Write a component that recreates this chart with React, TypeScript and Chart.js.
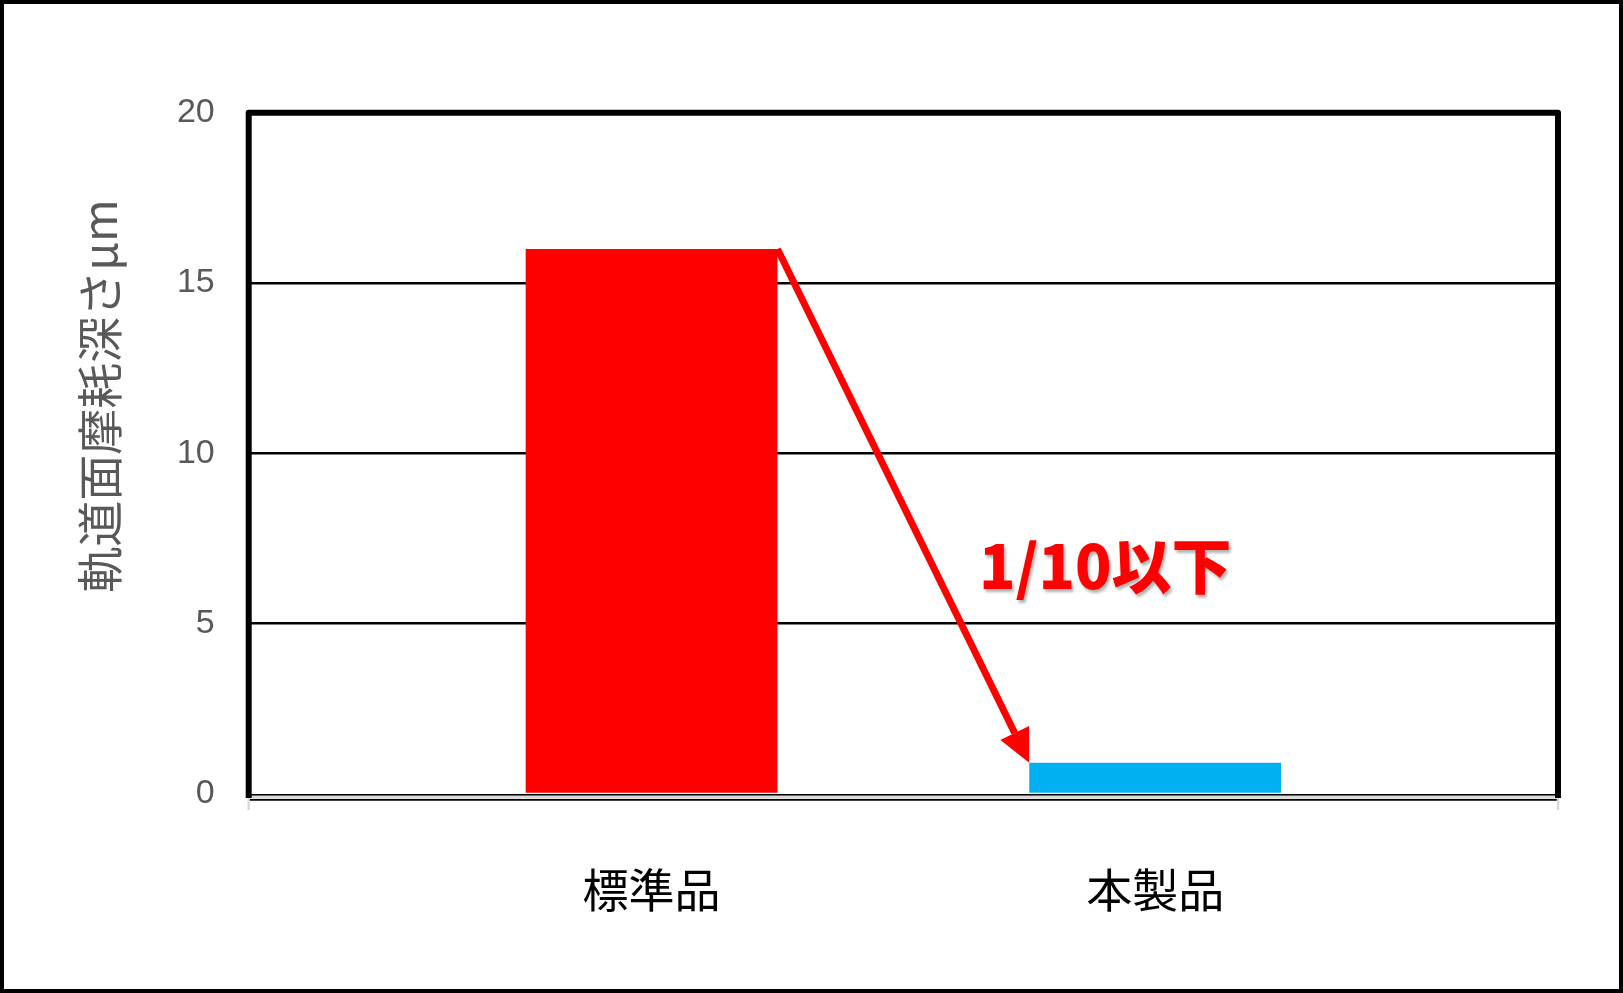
import { useEffect, useRef } from "react";
import { Chart, registerables } from "chart.js";

Chart.register(...registerables);

// chart values
const categories = ["標準品", "本製品"];
const wearDepth = [16, 0.92];
const barColors = ["#FF0000", "#00B0F0"];
const yTicks = [0, 5, 10, 15, 20];
const yTitle = "軌道面摩耗深さμm";
const noteText = "1/10以下";
// where the note sits, in axis units
const notePos = { x: 0.65, y: 6.7 };

const jpFont = '"Noto Sans CJK JP", "Noto Sans", sans-serif';

const overlayPlugin = {
    id: "overlay",
    afterDatasetsDraw(chart: any) {
        const { ctx, chartArea: a, scales } = chart;
        const bars = chart.getDatasetMeta(0).data as any[];

        ctx.save();

        // baseline: black / gray / black
        ctx.lineCap = "butt";
        ctx.strokeStyle = "#000";
        ctx.lineWidth = 1.8;
        ctx.beginPath();
        ctx.moveTo(a.left, a.bottom + 0.9);
        ctx.lineTo(a.right, a.bottom + 0.9);
        ctx.stroke();
        ctx.strokeStyle = "#d9d9d9";
        ctx.lineWidth = 3;
        ctx.beginPath();
        ctx.moveTo(a.left, a.bottom + 3.3);
        ctx.lineTo(a.right, a.bottom + 3.3);
        ctx.stroke();
        ctx.strokeStyle = "#000";
        ctx.lineWidth = 1.8;
        ctx.beginPath();
        ctx.moveTo(a.left, a.bottom + 5.9);
        ctx.lineTo(a.right, a.bottom + 5.9);
        ctx.stroke();

        // little gray ticks at both ends
        ctx.strokeStyle = "#d9d9d9";
        ctx.lineWidth = 2.5;
        for (const x of [a.left, a.right]) {
            ctx.beginPath();
            ctx.moveTo(x, a.bottom + 2);
            ctx.lineTo(x, a.bottom + 16);
            ctx.stroke();
        }

        // plot frame
        ctx.strokeStyle = "#000";
        ctx.lineWidth = 6;
        ctx.lineJoin = "round";
        ctx.beginPath();
        ctx.moveTo(a.left, a.bottom + 4);
        ctx.lineTo(a.left, a.top);
        ctx.lineTo(a.right, a.top);
        ctx.lineTo(a.right, a.bottom + 4);
        ctx.stroke();

        // arrow from the top of the first bar to the top of the second
        if (bars.length === 2) {
            const x0 = bars[0].x + bars[0].width / 2;
            const y0 = bars[0].y;
            const x1 = bars[1].x - bars[1].width / 2;
            const y1 = bars[1].y;
            const ang = Math.atan2(y1 - y0, x1 - x0);
            const headLen = 33;
            const headHalf = 16;
            const bx = x1 - headLen * Math.cos(ang);
            const by = y1 - headLen * Math.sin(ang);
            ctx.strokeStyle = "#FF0000";
            ctx.fillStyle = "#FF0000";
            ctx.lineWidth = 7;
            ctx.lineCap = "butt";
            ctx.beginPath();
            ctx.moveTo(x0, y0);
            ctx.lineTo(bx, by);
            ctx.stroke();
            ctx.beginPath();
            ctx.moveTo(x1, y1);
            ctx.lineTo(bx + headHalf * Math.sin(ang), by - headHalf * Math.cos(ang));
            ctx.lineTo(bx - headHalf * Math.sin(ang), by + headHalf * Math.cos(ang));
            ctx.closePath();
            ctx.fill();
        }

        // note text with a soft shadow
        ctx.font = `900 60px ${jpFont}`;
        ctx.textAlign = "left";
        ctx.textBaseline = "middle";
        ctx.fillStyle = "#FF0000";
        ctx.shadowColor = "rgba(0,0,0,0.3)";
        ctx.shadowOffsetX = 2;
        ctx.shadowOffsetY = 3;
        ctx.shadowBlur = 3;
        ctx.fillText(noteText, scales.x.getPixelForValue(notePos.x), scales.y.getPixelForValue(notePos.y));
        ctx.shadowColor = "transparent";

        // y axis title
        ctx.translate(a.left - 149, a.top + 0.416 * (a.bottom - a.top));
        ctx.rotate(-Math.PI / 2);
        ctx.font = `46px ${jpFont}`;
        ctx.fillStyle = "#595959";
        ctx.textAlign = "center";
        ctx.fillText(yTitle, 0, 0);

        ctx.restore();
    },
};

export default function App() {
    const canvasRef = useRef<HTMLCanvasElement | null>(null);

    useEffect(() => {
        document.body.style.margin = "0";
        if (!canvasRef.current) {
            return;
        }

        const chart = new Chart(canvasRef.current, {
            type: "bar",
            data: {
                datasets: [
                    {
                        label: "軌道面摩耗深さ",
                        data: categories.map((_, i) => ({ x: i, y: wearDepth[i] })),
                        backgroundColor: barColors,
                        borderWidth: 0,
                        barPercentage: 0.5,
                        categoryPercentage: 1,
                    },
                ],
            },
            options: {
                animation: false,
                responsive: true,
                maintainAspectRatio: false,
                layout: { padding: { top: 108.7, right: 61, left: 0, bottom: 0 } },
                plugins: {
                    legend: { display: false },
                    tooltip: { enabled: false },
                },
                scales: {
                    x: {
                        type: "linear",
                        offset: false,
                        min: -0.8,
                        max: 1.8,
                        afterBuildTicks: (s: any) => {
                            s.ticks = categories.map((_, i) => ({ value: i }));
                        },
                        afterFit: (s: any) => {
                            s.height = 195;
                        },
                        grid: { display: false, drawTicks: false, offset: false },
                        border: { display: false },
                        ticks: {
                            padding: 68,
                            color: "#000",
                            maxRotation: 0,
                            autoSkip: false,
                            font: { family: jpFont, size: 46 },
                            callback: (v: any) => categories[v] ?? "",
                        },
                    },
                    y: {
                        min: 0,
                        max: 20,
                        afterBuildTicks: (s: any) => {
                            s.ticks = yTicks.map((v) => ({ value: v }));
                        },
                        afterFit: (s: any) => {
                            s.width = 244.7;
                        },
                        grid: {
                            color: (c: any) => (c.tick && (c.tick.value === 0 || c.tick.value === 20) ? "transparent" : "#000"),
                            lineWidth: 2.5,
                            drawTicks: false,
                        },
                        border: { display: false },
                        ticks: {
                            padding: 34,
                            color: "#595959",
                            font: { family: '"Liberation Sans", Arial, sans-serif', size: 34 },
                        },
                    },
                },
            },
            plugins: [overlayPlugin],
        });

        return () => chart.destroy();
    }, []);

    return (
        <div
            style={{
                width: 1623,
                height: 993,
                boxSizing: "border-box",
                border: "4px solid #000",
                background: "#fff",
            }}
        >
            <div style={{ position: "relative", width: 1615, height: 985 }}>
                <canvas ref={canvasRef} />
            </div>
        </div>
    );
}
